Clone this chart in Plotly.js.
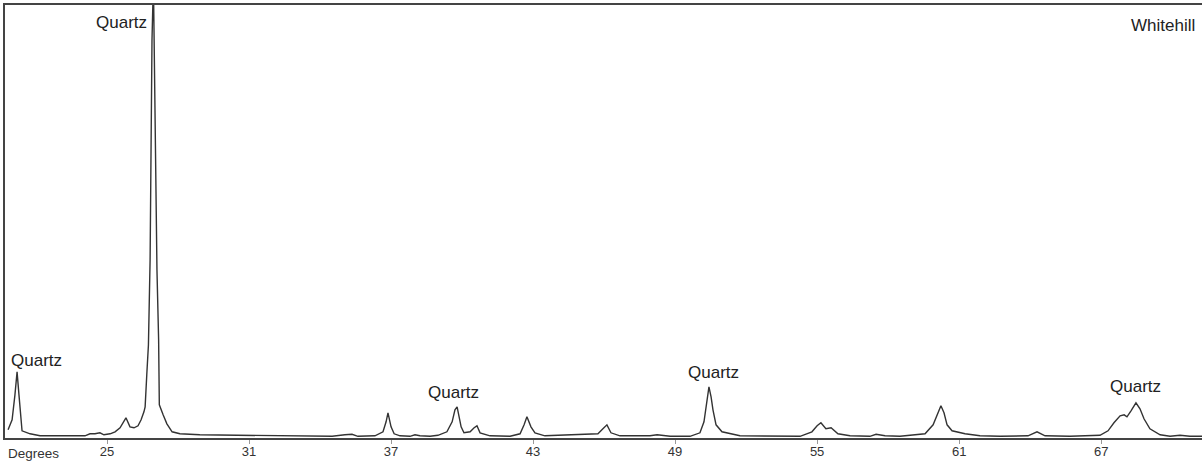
<!DOCTYPE html>
<html>
<head>
<meta charset="utf-8">
<script src="https://cdn.plot.ly/plotly-3.0.1.min.js"></script>
<style>
  html, body { margin: 0; padding: 0; background: #fff; }
  #chart { width: 1202px; height: 462px; }
</style>
</head>
<body>
<div id="chart"></div>
<script>
// Diffraction angle (degrees 2θ)
const degrees = [
  20.82, 20.99, 21.11, 21.20, 21.28, 21.41, 21.75, 22.17, 23.01, 24.07,
  24.28, 24.49, 24.70, 24.87, 25.13, 25.34, 25.55, 25.68, 25.80, 25.97,
  26.14, 26.31, 26.44, 26.56, 26.61, 26.68, 26.75, 26.82, 26.86, 26.90,
  26.96, 27.01, 27.05, 27.11, 27.18, 27.21, 27.37, 27.53, 27.75, 28.08,
  28.92, 31.04, 32.22, 33.15, 33.58, 34.00, 34.51, 35.05, 35.35, 35.60,
  36.32, 36.66, 36.79, 36.87, 37.00, 37.13, 37.38, 37.80, 38.01, 38.22,
  38.65, 38.98, 39.36, 39.58, 39.70, 39.79, 39.87, 39.96, 40.08, 40.34,
  40.51, 40.63, 40.76, 41.18, 42.03, 42.45, 42.62, 42.74, 42.91, 43.08,
  43.50, 44.14, 44.98, 45.74, 45.95, 46.12, 46.29, 46.67, 47.52, 47.94,
  48.24, 48.49, 48.79, 49.63, 50.05, 50.22, 50.35, 50.43, 50.52, 50.60,
  50.73, 50.98, 51.74, 54.28, 54.78, 55.00, 55.16, 55.37, 55.59, 55.88,
  56.39, 57.23, 57.49, 57.87, 58.50, 59.56, 59.90, 60.11, 60.23, 60.36,
  60.49, 60.70, 61.25, 61.88, 62.73, 63.91, 64.29, 64.63, 65.68, 66.95,
  67.29, 67.54, 67.80, 67.97, 68.09, 68.26, 68.47, 68.64, 68.81, 69.06,
  69.49, 69.91, 70.33, 70.75, 71.26
];
// Intensity (arbitrary units)
const intensity = [
  7, 17, 42, 65, 42, 6, 3, 1, 1, 1,
  3, 3, 4, 2, 3, 5, 9, 14, 19, 10,
  9, 11, 17, 25, 30, 62, 92, 177, 287, 397,
  455, 337, 257, 167, 97, 32, 22, 13, 5, 3,
  2, 1.5, 1, 1, 0.5, 1, 0.5, 2, 2.5, 0.5,
  1, 5, 15, 24, 10, 3, 1, 0.5, 2, 1,
  0.5, 1.5, 5, 15, 27, 30, 22, 10, 4, 5,
  9, 11, 4, 1, 0.5, 3, 12, 20, 10, 4,
  1, 1.5, 2, 3, 8, 12, 4, 1, 1, 1,
  2, 1, 0.5, 0.5, 4, 15, 35, 50, 40, 27,
  12, 5, 1, 0.5, 5, 11, 14, 8, 9, 3,
  1, 0.5, 2.5, 1, 0.5, 3, 12, 25, 31, 24,
  12, 6, 3, 1, 0.5, 1, 5, 1, 0.5, 1.5,
  6, 14, 21, 22, 20, 26, 34, 28, 18, 8,
  2, 0.5, 1.5, 0.5, 0.5
];
const tickValues = [25, 31, 37, 43, 49, 55, 61, 67];
const tickLabels = ["25", "31", "37", "43", "49", "55", "61", "67"];
// Peak labels
const labelText = ["Quartz", "Quartz", "Quartz", "Quartz", "Quartz"];
const labelX = [22.04, 25.63, 39.62, 50.64, 68.43];
const labelY = [76, 414, 44, 64, 50];
const sampleName = "Whitehill";

const FONT = '"Liberation Sans", Arial, sans-serif';

const annotations = labelText.map((t, i) => ({
  text: t, x: labelX[i], y: labelY[i], xref: 'x', yref: 'y',
  showarrow: false, xanchor: 'center', yanchor: 'middle',
  font: {family: FONT, size: 17, color: '#222'}
}));
annotations.push({
  text: sampleName, x: 1, y: 411, xref: 'paper', yref: 'y',
  xanchor: 'right', yanchor: 'middle', showarrow: false, xshift: -5,
  font: {family: FONT, size: 17, color: '#222'}
});
annotations.push({
  text: 'Degrees', x: 0, y: 0, xref: 'paper', yref: 'paper',
  xanchor: 'left', yanchor: 'top', showarrow: false, yshift: -6, xshift: 1,
  font: {family: FONT, size: 13.5, color: '#333'}
});

const trace = {
  x: degrees, y: intensity, type: 'scatter', mode: 'lines',
  line: {color: '#333', width: 1.4, shape: 'linear'},
  hoverinfo: 'skip'
};

const layout = {
  width: 1202, height: 462,
  margin: {l: 5, r: 0, t: 5, b: 24, pad: 0},
  paper_bgcolor: '#fff', plot_bgcolor: '#fff',
  showlegend: false,
  xaxis: {
    range: [20.69, 71.26],
    tickmode: 'array', tickvals: tickValues, ticktext: tickLabels,
    ticks: 'outside', ticklen: 4, tickwidth: 1, tickcolor: '#999',
    ticklabelstandoff: -3,
    showgrid: false, zeroline: false,
    showline: true, linecolor: '#444', linewidth: 1.6, mirror: true,
    tickfont: {family: FONT, size: 13, color: '#333'}
  },
  yaxis: {
    range: [-1.2, 432],
    showgrid: false, zeroline: false, showticklabels: false, ticks: '',
    showline: true, linecolor: '#444', linewidth: 2, mirror: false
  },
  annotations: annotations
};

Plotly.newPlot('chart', [trace], layout, {displayModeBar: false, staticPlot: true});
</script>
</body>
</html>
